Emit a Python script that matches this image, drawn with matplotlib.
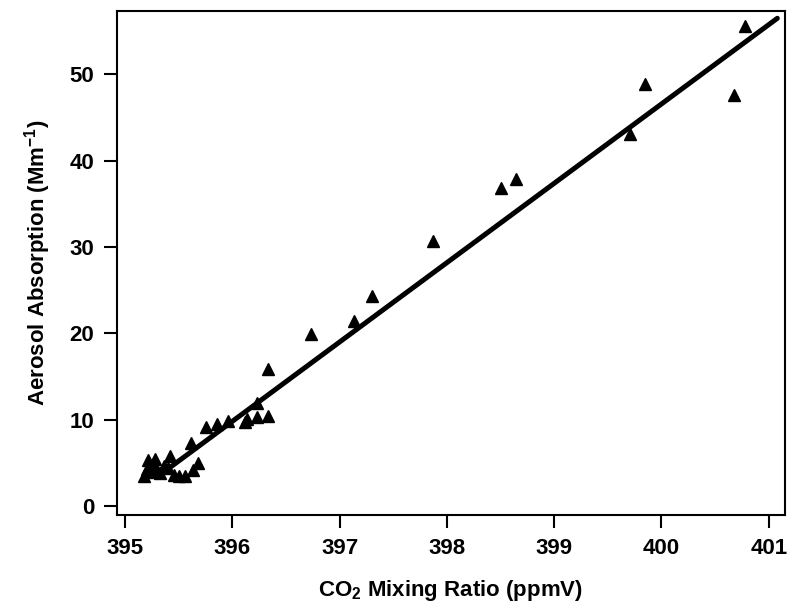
import matplotlib
matplotlib.use("Agg")
import matplotlib.pyplot as plt

co2 = [395.18, 395.20, 395.21, 395.23, 395.25, 395.28, 395.30, 395.33, 395.36, 395.40,
       395.42, 395.46, 395.50, 395.56, 395.63, 395.68, 395.61, 395.75, 395.86, 395.96,
       396.12, 396.14, 396.23, 396.23, 396.33, 396.33, 396.73, 397.13, 397.30, 397.87,
       398.50, 398.64, 399.71, 399.85, 400.68, 400.78]
absorption = [3.5, 4.3, 5.3, 3.9, 4.8, 5.4, 4.2, 3.8, 4.6, 4.4,
              5.8, 3.6, 3.5, 3.5, 4.2, 5.0, 7.3, 9.2, 9.5, 9.9,
              9.7, 10.1, 10.3, 11.9, 10.4, 15.9, 19.9, 21.4, 24.3, 30.7,
              36.8, 37.9, 43.1, 48.9, 47.6, 55.6]
fit_x = [395.39, 401.08]
fit_y = [4.2, 56.5]
xticks = [395, 396, 397, 398, 399, 400, 401]
yticks = [0, 10, 20, 30, 40, 50]

plt.rcParams['font.family'] = ['Liberation Sans', 'DejaVu Sans']
plt.rcParams['font.weight'] = 'bold'
plt.rcParams['mathtext.fontset'] = 'custom'
plt.rcParams['mathtext.rm'] = 'Liberation Sans:bold'
plt.rcParams['mathtext.bf'] = 'Liberation Sans:bold'
plt.rcParams['mathtext.default'] = 'regular'

fig = plt.figure(figsize=(7.88, 6.03), dpi=100)
ax = fig.add_axes([0.1485, 0.146, 0.8475, 0.836])

ax.plot(fit_x, fit_y, color='black', lw=3.6, solid_capstyle='round', zorder=2)
ax.plot(co2, absorption, linestyle='none', marker='^', color='black', ms=9, zorder=3)

ax.set_xlim(394.925, 401.15)
ax.set_ylim(-1.04, 57.36)
ax.set_xticks(xticks)
ax.set_yticks(yticks)
ax.tick_params(direction='out', length=9.5, width=1.5, labelsize=16, pad=7)
for lab in ax.get_xticklabels() + ax.get_yticklabels():
    lab.set_fontweight('bold')
for s in ax.spines.values():
    s.set_linewidth(1.5)

ax.set_xlabel('CO$_2$ Mixing Ratio (ppmV)', fontsize=16, fontweight='bold', labelpad=14)
ax.set_ylabel('Aerosol Absorption (Mm$^{-1}$)', fontsize=16, fontweight='bold', labelpad=12)

fig.savefig('out.png', dpi=100)
